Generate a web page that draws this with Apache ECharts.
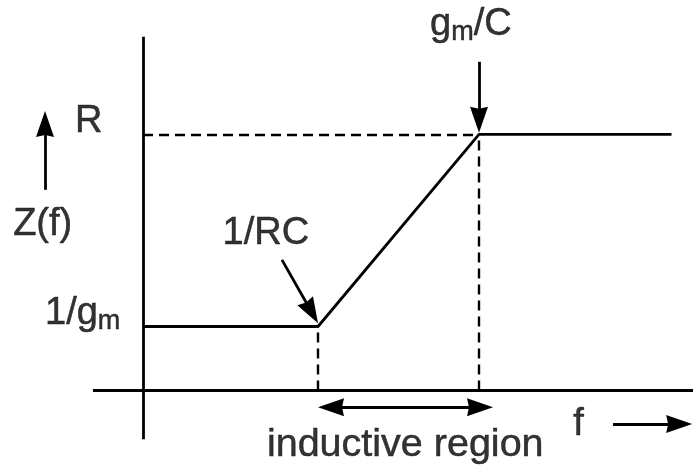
<!DOCTYPE html>
<html>
<head>
<meta charset="utf-8">
<script src="https://cdn.jsdelivr.net/npm/echarts@6/dist/echarts.min.js"></script>
<style>
  html, body { margin: 0; padding: 0; background: #fff; }
  #chart { width: 693px; height: 467px; }
</style>
</head>
<body>
<div id="chart"></div>
<script>
// Piecewise impedance Z(f) of a gyrator-style active inductor
const freqBreaks = [0, 5, 9.6, 15.1];   // start, 1/RC, gm/C, end
const impedance  = [2, 2, 8, 8];        // 1/gm plateau, rising, R plateau
const cornerLow = 5, cornerHigh = 9.6;  // 1/RC and gm/C
const levelLow = 2, levelHigh = 8;      // 1/gm and R

// Annotation texts and where they sit (data units)
const labelTexts = ['R', 'Z(f)', '1/g{s|m}', '1/RC', 'g{s|m}/C', 'inductive region', 'f'];
const labelX     = [-1.94, -3.71, -2.8, 3.51, 8.2, 3.54, 12.29];
const labelY     = [8.39, 5.2, 2.39, 4.89, 11.42, -1.70, -1.05];
const labelAlign = ['left', 'left', 'left', 'center', 'left', 'left', 'left'];
const labelSize  = [38, 38, 38, 38, 38, 39.5, 38];

const X_MIN = -4.086, X_MAX = 15.714;
const Y_MIN = -2.39, Y_MAX = 12.2;
const W = 693, H = 467;
const pxX = W / (X_MAX - X_MIN);
const pxY = H / (Y_MAX - Y_MIN);

const FONT = "'Liberation Sans', Helvetica, Arial, sans-serif";
const LW = 2.8;
const HEAD = [18, 26];
// arrowhead pointing up, with a shallow notch at the back
const HEAD_PATH = 'path://M9,0 L18,26 L9,24 L0,26 Z';

const chart = echarts.init(document.getElementById('chart'), null, { renderer: 'canvas' });

// Move point `to` back toward `from` by `px` screen pixels.
function pullBack(from, to, px) {
  const dx = (to[0] - from[0]) * pxX, dy = (to[1] - from[1]) * pxY;
  const len = Math.hypot(dx, dy);
  return [to[0] - dx / len * px / pxX, to[1] - dy / len * px / pxY];
}

// Rotation (degrees, counter-clockwise) turning an upward head toward from->to
function headAngle(from, to) {
  const dx = (to[0] - from[0]) * pxX;
  const dyScreen = -(to[1] - from[1]) * pxY;
  return Math.atan2(-dx, -dyScreen) * 180 / Math.PI;
}

// Arrows: [from, to, head at start, head at end]
const arrows = [
  [[-2.8, 6.27], [-2.8, 8.73], false, true],                         // Z(f) direction
  [[3.97, 4.08], [cornerLow, levelLow + 0.1], false, true],          // 1/RC pointer
  [[cornerHigh, 10.27], [cornerHigh, levelHigh + 0.05], false, true],// gm/C pointer
  [[cornerLow, -0.52], [10.0, -0.52], true, true],                   // inductive region span
  [[13.43, -1.05], [15.69, -1.05], false, true]                      // f direction
];

const axisLines = [
  [[-1.43, 0], [X_MAX, 0]],      // frequency axis
  [[0, -1.52], [0, 11.05]]       // impedance axis
];

const dashedLines = [
  [[0, levelHigh], [cornerHigh, levelHigh]],
  [[cornerLow, 0], [cornerLow, levelLow]],
  [[cornerHigh, 0], [cornerHigh, levelHigh]]
];

const half = HEAD[1] / 2;
const solidSegs = axisLines.map(([a, b]) => [{ coord: a }, { coord: b }]);
const heads = [];
arrows.forEach(([a, b, hs, he]) => {
  const p = hs ? pullBack(b, a, half) : a;
  const q = he ? pullBack(a, b, half) : b;
  solidSegs.push([{ coord: p }, { coord: q }]);
  if (hs) heads.push({ value: p, symbolRotate: headAngle(b, a) });
  if (he) heads.push({ value: q, symbolRotate: headAngle(a, b) });
});

const labelData = labelTexts.map((t, i) => ({
  value: [labelX[i], labelY[i]],
  label: {
    show: true,
    formatter: t,
    position: 'inside',
    align: labelAlign[i],
    verticalAlign: 'middle',
    fontSize: labelSize[i]
  }
}));

chart.setOption({
  animation: false,
  backgroundColor: '#ffffff',
  grid: { left: 0, right: 0, top: 0, bottom: 0 },
  xAxis: { type: 'value', min: X_MIN, max: X_MAX, show: false },
  yAxis: { type: 'value', min: Y_MIN, max: Y_MAX, show: false },
  series: [
    {
      type: 'line',
      name: 'Z(f)',
      data: freqBreaks.map((f, i) => [f, impedance[i]]),
      symbol: 'none',
      lineStyle: { color: '#000', width: LW },
      silent: true,
      markLine: {
        silent: true,
        symbol: ['none', 'none'],
        label: { show: false },
        lineStyle: { color: '#000', width: LW, type: 'solid' },
        data: solidSegs
      }
    },
    {
      type: 'line',
      name: 'guides',
      data: [],
      markLine: {
        silent: true,
        symbol: ['none', 'none'],
        label: { show: false },
        lineStyle: { color: '#000', width: LW - 0.4, type: [10, 6] },
        data: dashedLines.map(([a, b]) => [{ coord: a }, { coord: b }])
      }
    },
    {
      type: 'scatter',
      name: 'arrowheads',
      symbol: HEAD_PATH,
      symbolSize: HEAD,
      symbolKeepAspect: false,
      silent: true,
      itemStyle: { color: '#000', opacity: 1 },
      data: heads
    },
    {
      type: 'scatter',
      name: 'labels',
      symbolSize: 0,
      silent: true,
      label: {
        color: '#000',
        textBorderColor: '#000',
        textBorderWidth: 0.5,
        fontFamily: FONT,
        fontSize: 38,
        lineHeight: 42,
        rich: {
          s: {
            fontFamily: FONT, fontSize: 27, color: '#000',
            textBorderColor: '#000', textBorderWidth: 0.5,
            verticalAlign: 'bottom', lineHeight: 18
          }
        }
      },
      data: labelData
    }
  ]
});
</script>
</body>
</html>
